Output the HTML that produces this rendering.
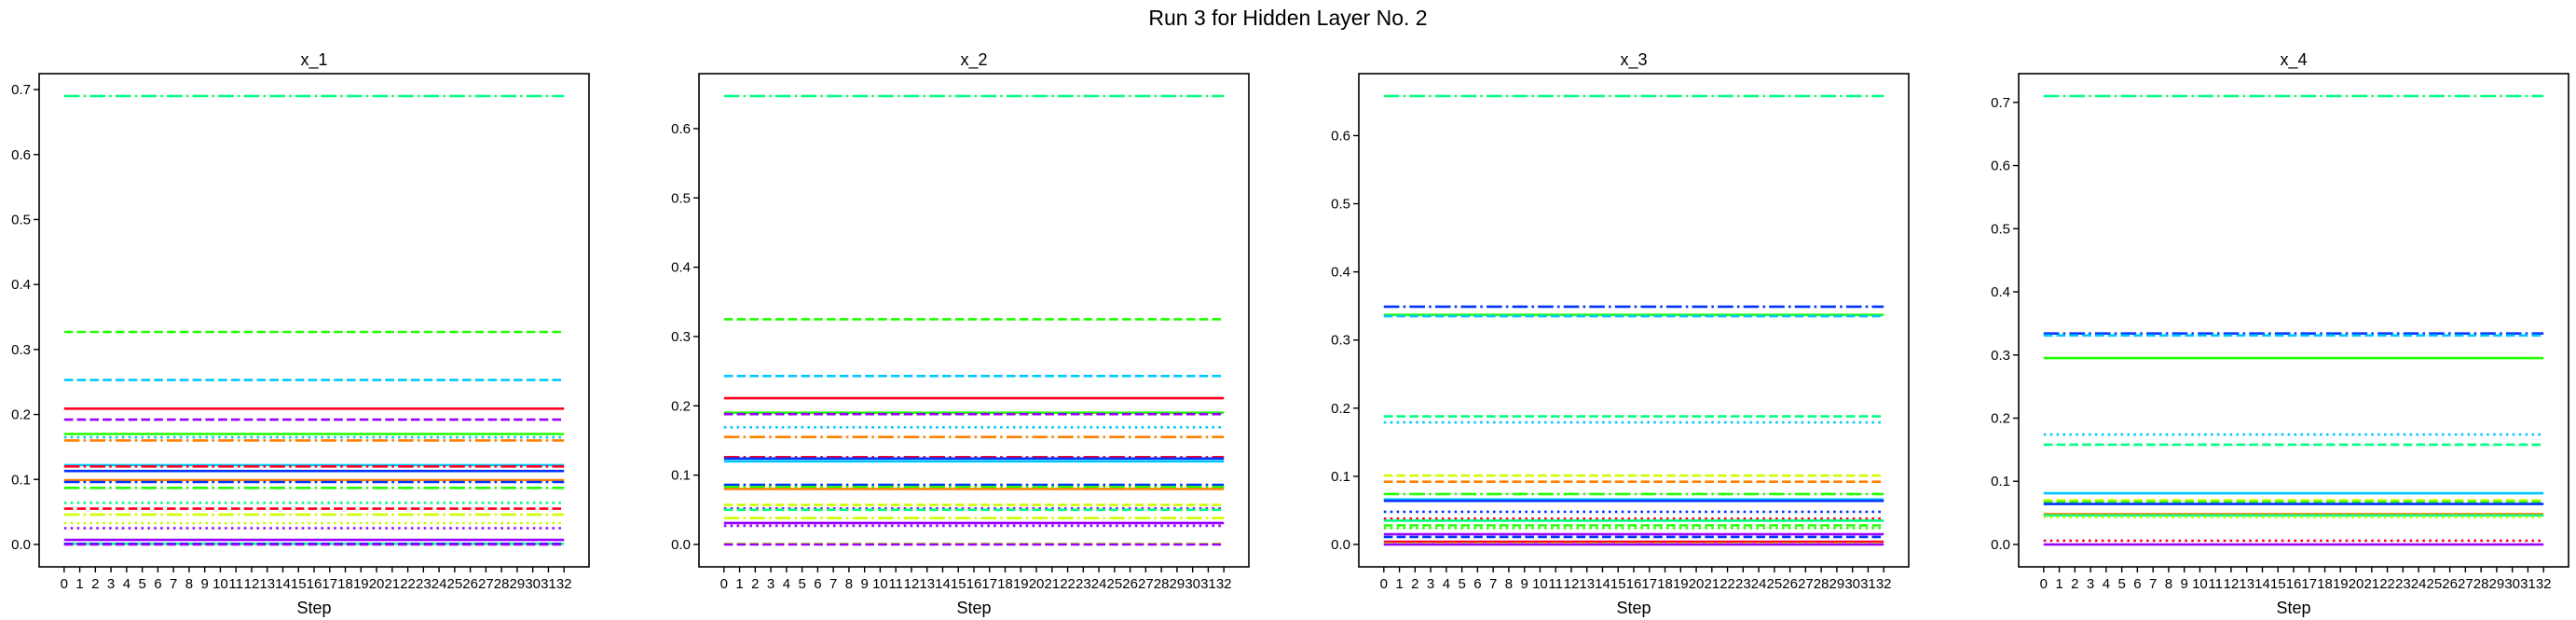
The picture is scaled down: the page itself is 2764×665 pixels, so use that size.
<!DOCTYPE html>
<html><head><meta charset="utf-8"><style>
html,body{margin:0;padding:0;background:#fff;}
svg{display:block;font-family:"Liberation Sans","DejaVu Sans",sans-serif;}
</style></head><body>
<svg id="fig" width="2764" height="665" viewBox="0 0 2764 665" xmlns="http://www.w3.org/2000/svg">
<rect width="2764" height="665" fill="#fff"/>
<text x="1382" y="27" font-size="23" text-anchor="middle" fill="#000">Run 3 for Hidden Layer No. 2</text>
</svg>
<script>
const steps = Array.from({length:33},(_,i)=>i);
const titles = ["x_1","x_2","x_3","x_4"];
const yTicks1 = [0,0.1,0.2,0.3,0.4,0.5,0.6,0.7];
const yTicks2 = [0,0.1,0.2,0.3,0.4,0.5,0.6];
const yTicks3 = [0,0.1,0.2,0.3,0.4,0.5,0.6];
const yTicks4 = [0,0.1,0.2,0.3,0.4,0.5,0.6,0.7];
const vals1 = [0.69,0.327,0.253,0.209,0.192,0.170,0.165,0.160,0.122,0.120,0.113,0.099,0.096,0.087,0.064,0.055,0.046,0.033,0.025,0.007,0.001,0.001,0.0];
const cols1 = ["#00ff80","#22ff00","#00c8ff","#ff0022","#9900ff","#22ff00","#00c8ff","#ff8000","#00c8ff","#ff0022","#0033ff","#ff8000","#0033ff","#22ff00","#00ff80","#ff0022","#ccff00","#ccff00","#9900ff","#9900ff","#00ff80","#0033ff","#9900ff"];
const stys1 = ["dashdot","dashed","dashed","solid","dashed","solid","dotted","dashdot","solid","dashdot","solid","solid","dashdot","dashdot","dotted","dashed","dashdot","dotted","dotted","solid","solid","dashed","dashed"];
const vals2 = [0.647,0.325,0.243,0.211,0.190,0.188,0.169,0.155,0.126,0.124,0.120,0.086,0.083,0.080,0.057,0.052,0.050,0.038,0.031,0.027,0.001,0.0];
const cols2 = ["#00ff80","#22ff00","#00c8ff","#ff0022","#22ff00","#9900ff","#00c8ff","#ff8000","#ff0022","#0033ff","#00c8ff","#0033ff","#22ff00","#ff8000","#ccff00","#9900ff","#00ff80","#ccff00","#9900ff","#9900ff","#ccff00","#9900ff"];
const stys2 = ["dashdot","dashed","dashed","solid","solid","dashed","dotted","dashdot","dashdot","solid","solid","dashdot","dashdot","solid","dashed","dotted","dashed","dashdot","solid","dotted","dashed","dashed"];
const vals3 = [0.658,0.349,0.337,0.335,0.188,0.179,0.101,0.092,0.074,0.066,0.064,0.048,0.038,0.035,0.028,0.024,0.015,0.011,0.004,0.001,0.0];
const cols3 = ["#00ff80","#0033ff","#22ff00","#00c8ff","#00ff80","#00c8ff","#ccff00","#ff8000","#22ff00","#00c8ff","#0033ff","#0033ff","#ff0022","#00ff80","#22ff00","#22ff00","#9900ff","#0033ff","#ff0022","#ccff00","#9900ff"];
const stys3 = ["dashdot","dashdot","solid","dashed","dashed","dotted","dashed","dashed","dashdot","solid","solid","dotted","dotted","solid","dashed","dotted","solid","dashed","solid","dashed","solid"];
const vals4 = [0.71,0.334,0.331,0.295,0.174,0.158,0.081,0.070,0.067,0.064,0.048,0.046,0.043,0.006,0.0];
const cols4 = ["#00ff80","#0033ff","#00c8ff","#22ff00","#00c8ff","#00ff80","#00c8ff","#ccff00","#22ff00","#0033ff","#ff8000","#00ff80","#ccff00","#ff0022","#9900ff"];
const stys4 = ["dashdot","dashdot","dashed","solid","dotted","dashed","solid","dashed","dashed","solid","solid","solid","dotted","dotted","solid"];

const allVals=[vals1,vals2,vals3,vals4], allCols=[cols1,cols2,cols3,cols4], allStys=[stys1,stys2,stys3,stys4], allTicks=[yTicks1,yTicks2,yTicks3,yTicks4];
const NS="http://www.w3.org/2000/svg";
const svg=document.getElementById('fig');
const LW=2.6;
const dashes={solid:null,dashed:(3.7*LW)+","+(1.6*LW),dashdot:(6.4*LW)+","+(1.6*LW)+","+LW+","+(1.6*LW),dotted:LW+","+(1.65*LW)};
function mk(tag,attrs,parent){const e=document.createElementNS(NS,tag);for(const k in attrs)e.setAttribute(k,attrs[k]);(parent||svg).appendChild(e);return e;}
const lefts=[42,750,1458,2166], W=590, TOP=79, BOT=608;
for(let p=0;p<4;p++){
  const L=lefts[p], R=L+W;
  const vals=allVals[p];
  const mn=Math.min(...vals), mx=Math.max(...vals), rg=mx-mn;
  const y0=mn-0.05*rg, y1=mx+0.05*rg;
  const x0=steps[0]-0.05*(steps[steps.length-1]-steps[0]), x1=steps[steps.length-1]+0.05*(steps[steps.length-1]-steps[0]);
  const xs=v=>L+(v-x0)/(x1-x0)*W;
  const ys=v=>BOT-(v-y0)/(y1-y0)*(BOT-TOP);
  const g=mk('g',{});
  
  
  for(let i=0;i<vals.length;i++){
    const pts=steps.map(s=>xs(s).toFixed(1)+","+ys(vals[i]).toFixed(1)).join(" ");
    const a={points:pts,fill:"none",stroke:allCols[p][i],"stroke-width":LW};
    if(dashes[allStys[p][i]])a["stroke-dasharray"]=dashes[allStys[p][i]];
    const pl=mk('polyline',a,g);
    
    
  }
  const fr=mk('rect',{x:L,y:TOP,width:W,height:BOT-TOP,fill:"none",stroke:"#000","stroke-width":1.6},g);
  
  
  const t=mk('text',{x:L+W/2,y:TOP-9,"font-size":18,"text-anchor":"middle"},g);t.textContent=titles[p];
  
  
  for(const s of steps){
    const x=xs(s);
    mk('line',{x1:x,x2:x,y1:BOT,y2:BOT+6,stroke:"#000","stroke-width":1.4},g);
    const tl=mk('text',{x:x,y:BOT+23,"font-size":15,"text-anchor":"middle"},g);tl.textContent=s;
    
    
  }
  const xl=mk('text',{x:L+W/2,y:BOT+50,"font-size":18,"text-anchor":"middle"},g);xl.textContent="Step";
  
  
  for(const v of allTicks[p]){
    const y=ys(v);
    mk('line',{x1:L-6,x2:L,y1:y,y2:y,stroke:"#000","stroke-width":1.4},g);
    const yl=mk('text',{x:L-9,y:y+5,"font-size":15,"text-anchor":"end"},g);yl.textContent=v.toFixed(1);
    
    
  }
}
</script>
</body></html>
